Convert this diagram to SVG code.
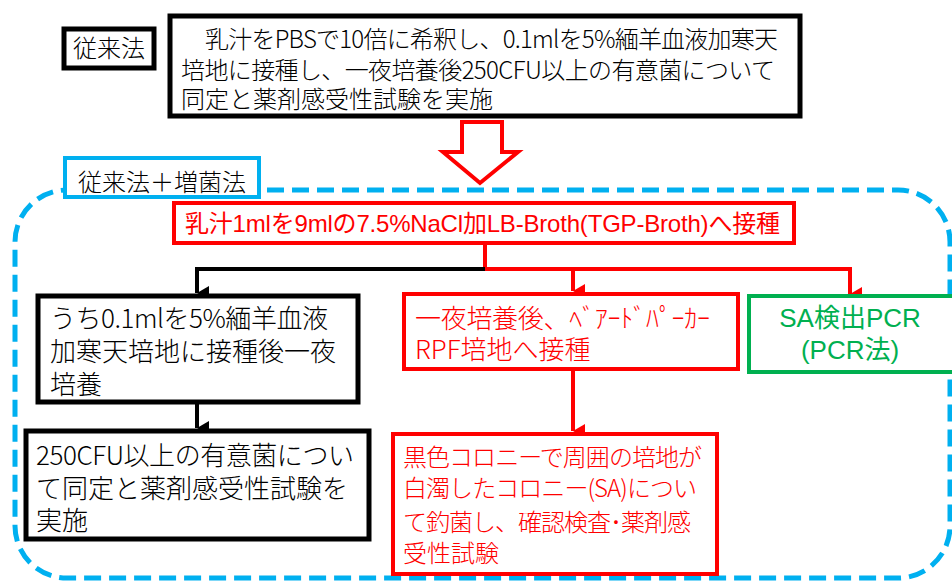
<svg xmlns="http://www.w3.org/2000/svg" width="952" height="581" viewBox="0 0 952 581">
<style>
.jp{font-family:"Noto Sans CJK JP","Noto Sans",sans-serif;font-weight:300}
.ar{font-family:"Liberation Sans","Noto Sans CJK JP",sans-serif;font-weight:400}
.bk{fill:#fff;stroke:#000;stroke-width:5}
.rd{fill:#fff;stroke:#f00;stroke-width:4}
.gr{fill:#fff;stroke:#00B050;stroke-width:4}
.bl{fill:#fff;stroke:#00B0F0;stroke-width:4}
.tb{fill:#000}
.tr{fill:#f00}
.tg{fill:#00B050}
.lnk{fill:none;stroke-width:4}
</style>
<defs>
<marker id="ab" markerUnits="userSpaceOnUse" markerWidth="14" markerHeight="14" refX="7" refY="12" orient="auto-start-reverse" viewBox="0 0 14 14"><path d="M0,0 L14,0 L7,12 Z" fill="#000"/></marker>
<marker id="ar" markerUnits="userSpaceOnUse" markerWidth="14" markerHeight="14" refX="7" refY="12" orient="auto-start-reverse" viewBox="0 0 14 14"><path d="M0,0 L14,0 L7,12 Z" fill="#f00"/></marker>
</defs>

<rect id="enrich-frame" x="15" y="190" width="935" height="388" rx="52" ry="52" fill="none" stroke="#00B0F0" stroke-width="5" stroke-dasharray="17 8"/>

<g id="label-conventional">
<rect class="bk" x="64" y="29" width="90" height="39" stroke-width="4"/>
<text class="jp tb" x="109" y="57" font-size="24" text-anchor="middle">従来法</text>
</g>

<g id="conventional-method">
<rect class="bk" x="170" y="16" width="630" height="100"/>
<text class="jp tb" font-size="24"><tspan x="205" y="48" textLength="573" lengthAdjust="spacing">乳汁をPBSで10倍に希釈し、0.1mlを5%緬羊血液加寒天</tspan><tspan x="181" y="79" textLength="594" lengthAdjust="spacing">培地に接種し、一夜培養後250CFU以上の有意菌について</tspan><tspan x="181" y="108">同定と薬剤感受性試験を実施</tspan></text>
</g>

<g id="big-arrow">
<polygon points="462,122 502,122 502,152 518,152 480,183 443,152 462,152" fill="#fff" stroke="#f00" stroke-width="4"/>
</g>

<g id="label-enrich">
<rect class="bl" x="65" y="158" width="194" height="39"/>
<text class="jp tb" x="162" y="191" font-size="24" text-anchor="middle">従来法＋増菌法</text>
</g>

<g id="inoculate">
<rect class="rd" x="174" y="203" width="620" height="40"/>
<text class="ar tr" x="185" y="232" font-size="24" textLength="595" lengthAdjust="spacing">乳汁1mlを9mlの7.5%NaCl加LB-Broth(TGP-Broth)へ接種</text>
</g>

<g id="connectors">
<path class="lnk" d="M485,244 V269" stroke="#f00"/>
<path class="lnk" d="M485,269 H197 V293" stroke="#000" marker-end="url(#ab)"/>
<path class="lnk" d="M485,269 H850 V294" stroke="#f00" marker-end="url(#ar)"/>
<path class="lnk" d="M573,269 V291" stroke="#f00" marker-end="url(#ar)"/>
<path class="lnk" d="M197,402 V428" stroke="#000" marker-end="url(#ab)"/>
<path class="lnk" d="M573,370 V431" stroke="#f00" marker-end="url(#ar)"/>
</g>

<g id="blood-agar">
<rect class="bk" x="38" y="296" width="320" height="106"/>
<text class="jp tb" font-size="26"><tspan x="50" y="328" textLength="278" lengthAdjust="spacing">うち0.1mlを5%緬羊血液</tspan><tspan x="50" y="361">加寒天培地に接種後一夜</tspan><tspan x="50" y="394">培養</tspan></text>
</g>

<g id="identify-conv">
<rect class="bk" x="26" y="431" width="343" height="108"/>
<text class="jp tb" font-size="26"><tspan x="36" y="465" textLength="318" lengthAdjust="spacing">250CFU以上の有意菌につい</tspan><tspan x="36" y="498">て同定と薬剤感受性試験を</tspan><tspan x="36" y="530">実施</tspan></text>
</g>

<g id="baird-parker">
<rect class="rd" x="404" y="294" width="334" height="75"/>
<text class="jp tr" font-size="26"><tspan x="415" y="328" textLength="295" lengthAdjust="spacing">一夜培養後、ﾍﾞｱｰﾄﾞﾊﾟｰｶｰ</tspan><tspan x="415" y="359">RPF培地へ接種</tspan></text>
</g>

<g id="sa-pcr">
<rect class="gr" x="749" y="296" width="205" height="76"/>
<text class="ar tg" font-size="26" text-anchor="middle"><tspan x="850" y="327">SA検出PCR</tspan><tspan x="850" y="359">(PCR法)</tspan></text>
</g>

<g id="sa-identify">
<rect class="rd" x="393" y="434" width="324" height="140"/>
<text class="jp tr" font-size="24"><tspan x="403" y="466" textLength="299" lengthAdjust="spacing">黒色コロニーで周囲の培地が</tspan><tspan x="403" y="497" textLength="294" lengthAdjust="spacing">白濁したコロニー(SA)につい</tspan><tspan x="403" y="531" textLength="288" lengthAdjust="spacing">て釣菌し、確認検査･薬剤感</tspan><tspan x="403" y="562">受性試験</tspan></text>
</g>
</svg>
